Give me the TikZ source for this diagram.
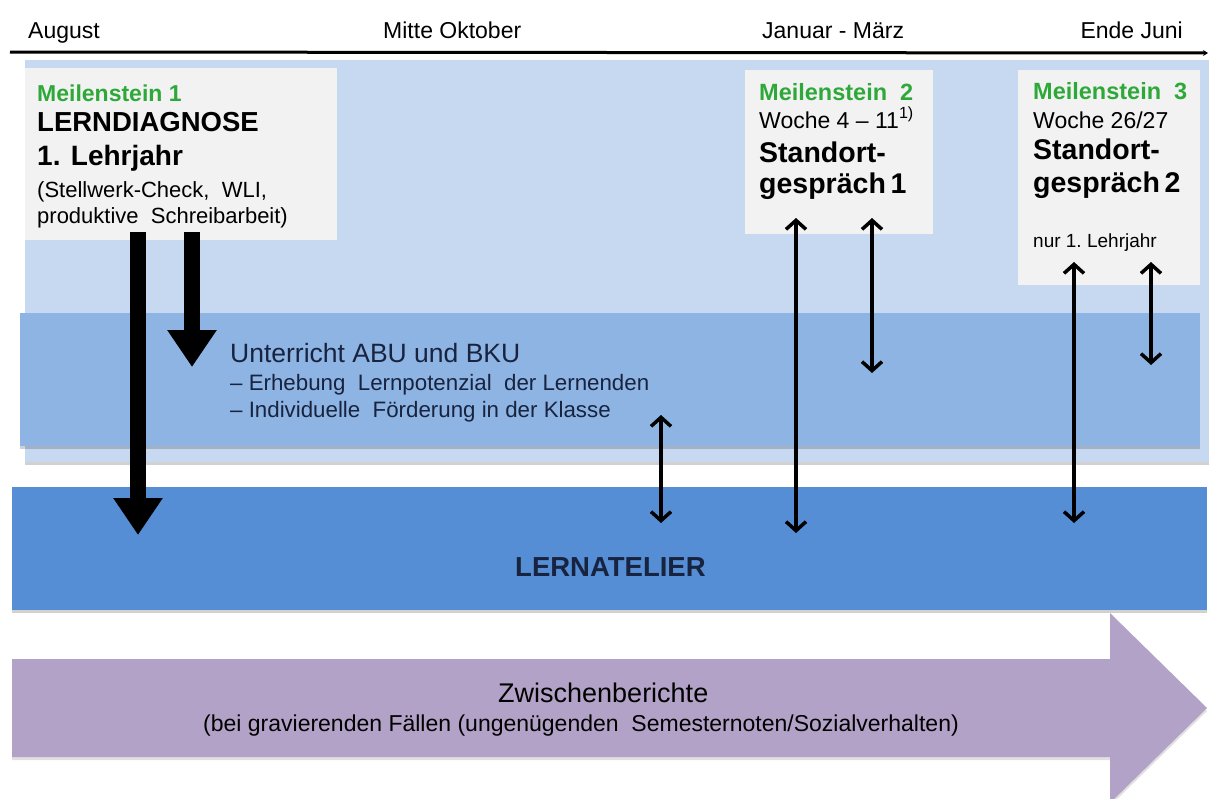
\documentclass[tikz,border=0pt]{standalone}
\usepackage{fontspec}
\setmainfont{Liberation Sans}
\usetikzlibrary{arrows.meta,shadows}

\definecolor{bgblue}{HTML}{C6D9F1}
\definecolor{midblue}{HTML}{8DB4E2}
\definecolor{darkblue}{HTML}{558ED5}
\definecolor{lila}{HTML}{B3A2C7}
\definecolor{boxgray}{HTML}{F2F2F2}
\definecolor{msgreen}{HTML}{2FA83A}
\definecolor{navy}{HTML}{18233F}

\newcommand{\fsz}[1]{\fontsize{#1}{#1}\selectfont}

\tikzset{
  band/.style={inner sep=0pt, anchor=north west,
    drop shadow={shadow xshift=0pt, shadow yshift=-3pt, opacity=0.18, fill=black}},
  msbox/.style={fill=boxgray, inner sep=0pt, anchor=north west},
  txt/.style={anchor=base west, inner sep=0pt},
  fat/.style={line width=16pt, -{Triangle[length=37pt,width=47pt]}},
  both/.style={line width=3.5pt,
    {Straight Barb[length=9pt,width=20pt]}-{Straight Barb[length=9pt,width=20pt]}},
}

\begin{document}
\begin{tikzpicture}[x=1pt, y=-1pt]
    \useasboundingbox (0,0) rectangle (1209,798);

    % Zeitachse
    \node[txt] (aug) at (28,38) {\fsz{23}August};
    \node[txt] (okt) at (383,38) {\fsz{23}Mitte Oktober};
    \node[txt] (jan) at (762,38) {\fsz{23}Januar - März};
    \node[anchor=base east, inner sep=0pt] (jun) at (1183,38) {\fsz{23}Ende Juni};
    \coordinate (tl0) at (10,52);
    \coordinate (tl1) at (1208,53);
    \draw[line width=3pt, -{Stealth[length=5pt,width=6pt]}] (tl0) -- (tl1);

    % Hintergrund und Baender
    \node[band, fill=bgblue, minimum width=1184pt, minimum height=402pt] (bg) at (25,60) {};
    \node[band, fill=midblue, minimum width=1180pt, minimum height=133pt] (unt) at (20,313) {};
    \node[band, fill=darkblue, minimum width=1195pt, minimum height=123pt] (lat) at (12,487) {};
    \fill[lila, drop shadow={shadow xshift=0pt, shadow yshift=-3pt, opacity=0.12, fill=black}]
        (12,659) -- (1110,659) -- (1110,613) -- (1207,708) -- (1110,803) -- (1110,757) -- (12,757) -- cycle;

    % Meilensteine
    \node[msbox, minimum width=312pt, minimum height=172pt] (ms1) at (25,68) {};
    \node[msbox, minimum width=188pt, minimum height=164pt] (ms2) at (745,70) {};
    \node[msbox, minimum width=182pt, minimum height=215pt] (ms3) at (1018,70) {};

    \node[txt, text=msgreen] (ms1t) at (37,101) {\fsz{23}\bfseries Meilenstein 1};
    \node[txt] (ms1a) at (37,131) {\fsz{27.5}\bfseries LERNDIAGNOSE};
    \node[txt] (ms1b) at (37,165) {\fsz{28}\bfseries 1. Lehrjahr};
    \node[txt] (ms1c) at (37,197) {\fsz{22}(Stellwerk-Check,\ \ WLI,};
    \node[txt] (ms1d) at (37,223) {\fsz{22}produktive\ \ Schreibarbeit)};

    \node[txt, text=msgreen] (ms2t) at (759,100) {\fsz{23.5}\bfseries Meilenstein\ \ 2};
    \node[txt] (ms2a) at (759,128) {\fsz{23}Woche 4 – 11\textsuperscript{1)}};
    \node[txt] (ms2b) at (759,162) {\fsz{28.5}\bfseries Standort-};
    \node[txt] (ms2c) at (759,193) {\fsz{28.5}\bfseries gespräch\,1};

    \node[txt, text=msgreen] (ms3t) at (1033,99) {\fsz{23.5}\bfseries Meilenstein\ \ 3};
    \node[txt] (ms3a) at (1033,128) {\fsz{23}Woche 26/27};
    \node[txt] (ms3b) at (1033,159) {\fsz{28.5}\bfseries Standort-};
    \node[txt] (ms3c) at (1033,192) {\fsz{28.5}\bfseries gespräch\,2};
    \node[txt] (ms3d) at (1033,247) {\fsz{19}nur 1.\ Lehrjahr};

    % Unterricht
    \node[txt, text=navy] (unt1) at (230,362) {\fsz{26.5}Unterricht ABU und BKU};
    \node[txt, text=navy] (unt2) at (230,390) {\fsz{22.3}– Erhebung\ \ Lernpotenzial\ \ der Lernenden};
    \node[txt, text=navy] (unt3) at (230,417) {\fsz{22.3}– Individuelle\ \ Förderung in der Klasse};

    % Lernatelier und Zwischenberichte
    \node[txt, text=navy] (latt) at (515,576) {\fsz{27.5}\bfseries LERNATELIER};
    \node[txt] (zwb) at (498,702) {\fsz{27}Zwischenberichte};
    \node[txt] (zwbs) at (203,731) {\fsz{23}(bei gravierenden Fällen (ungenügenden\ \ Semesternoten/Sozialverhalten)};

    % Pfeile
    \coordinate (f1a) at (138,232);
    \coordinate (f1b) at (138,535);
    \coordinate (f2a) at (192,232);
    \coordinate (f2b) at (192,367);
    \draw[fat] (f1a) -- (f1b);
    \draw[fat] (f2a) -- (f2b);

    \coordinate (p1a) at (661,415);
    \coordinate (p1b) at (661,523);
    \coordinate (p2a) at (796,218);
    \coordinate (p2b) at (796,533);
    \coordinate (p3a) at (872,218);
    \coordinate (p3b) at (872,373);
    \coordinate (p4a) at (1074,262);
    \coordinate (p4b) at (1074,523);
    \coordinate (p5a) at (1151,262);
    \coordinate (p5b) at (1151,365);
    \foreach \i in {1,...,5} {
        \draw[both] (p\i a) -- (p\i b);
    }
\end{tikzpicture}
\end{document}
